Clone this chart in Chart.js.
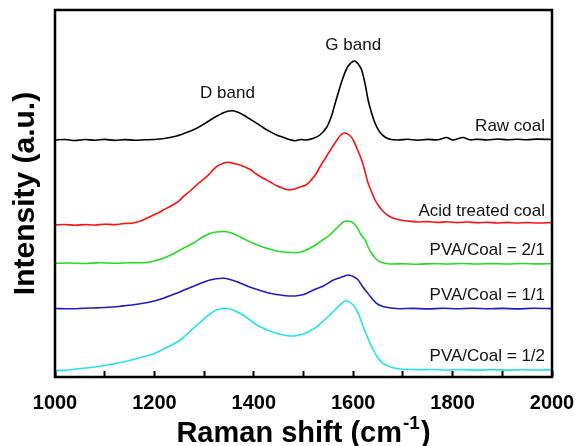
<!DOCTYPE html>
<html>
<head>
<meta charset="utf-8">
<script src="https://cdn.jsdelivr.net/npm/chart.js@4.4.1/dist/chart.umd.min.js"></script>
<style>
  html, body { margin: 0; padding: 0; background: #fff; }
  #wrap { width: 576px; height: 446px; }
</style>
</head>
<body>
<div id="wrap"><canvas id="raman"></canvas></div>
<script>
// Raman spectra, curves offset vertically (arbitrary units)
const rawShift = [1000,1020,1040,1060,1080,1100,1120,1140,1160,1180,1200,1220,1245,1265,1285,1300,1318,1339,1355,1367,1379,1392,1406,1420,1433,1446,1459,1471,1483,1495,1506,1520,1533,1547,1557,1565,1580,1590,1602,1610,1617,1624,1630,1637,1644,1652,1661,1674,1690,1710,1730,1750,1770,1788,1800,1821,1835,1850,1870,1890,1910,1930,1950,1970,2000];
const rawCoal  = [237,237.5,236.5,237.5,236.8,237.6,236.6,237.4,236.8,237.2,237.5,238.5,241,244.5,248.7,253,258.7,264.3,266.3,265,262,258,253.7,249,245.3,242,239.7,237.5,236.3,237.5,237,238.7,242,250,262,276,300,311,316,313,307,293,277,264,253.7,246,241,237.7,237,237.8,236.8,237.6,237.2,239.5,237,239.5,237.2,237.8,237,238,237.2,237.8,237.3,237.9,237.5];

const acidShift = [1000,1020,1040,1060,1080,1100,1120,1140,1158,1175,1191,1205,1218,1233,1248,1258,1272,1285,1305,1325,1340,1349,1360,1372,1392,1405,1419,1433,1446,1466,1480,1493,1505,1513,1525,1533,1543,1553,1566,1575,1583,1592,1600,1608,1617,1624,1630,1637,1644,1652,1661,1670,1681,1694,1708,1730,1750,1770,1790,1810,1830,1850,1870,1890,1910,1930,1950,1970,2000];
const acidCoal  = [152,152.5,151.8,152.4,152,152.8,152.4,153.5,154,156.5,160.3,163.5,167,171,175.3,180.3,186,192,200.3,210.3,214,214.7,213.5,212,207.7,203,198.7,195,191.3,187.5,187.8,190,192,195.5,203,210,218,226,236,242,244,242,237,228,217,205,193.7,185,177,170.5,165.3,161.5,158.7,157,156,155,155.4,154.6,155.2,154.4,155,154.2,154.8,154,154.6,154,154.5,154,154.5];

const pva21Shift = [1000,1030,1060,1090,1120,1150,1184,1200,1218,1235,1252,1265,1278,1298,1312,1325,1345,1358,1372,1385,1399,1413,1426,1442,1459,1475,1490,1503,1513,1527,1540,1553,1567,1580,1587,1597,1607,1615,1624,1630,1637,1645,1654,1664,1674,1700,1730,1760,1790,1820,1850,1880,1910,1940,1970,2000];
const pva21     = [113.7,114,113.5,114.2,113.8,114.3,114.5,116,118.7,122.5,127,130.5,133.7,140.3,143.5,145,145.3,143.5,140.3,137,133.7,131,128.7,126.5,125,124.5,124.5,126.5,128.7,133,137.5,142,149,155,156,155,150.3,143,137,130,123.7,118.5,115.3,113.8,113,113.2,112.8,113.4,113,113.5,113,113.4,113,113.5,113.1,113.4];

const pva11Shift = [1000,1030,1060,1090,1124,1150,1178,1200,1218,1235,1252,1270,1285,1300,1312,1325,1339,1352,1366,1382,1399,1416,1433,1453,1473,1490,1506,1520,1540,1560,1575,1590,1600,1610,1618,1627,1637,1647,1657,1667,1680,1694,1720,1750,1780,1810,1840,1870,1900,1930,1960,2000];
const pva11      = [68.5,68.2,68.8,69.2,70.3,71.8,73.7,76,78.7,82,85.3,89,92,95,97,98.3,98.7,97.5,95.3,92,88.7,86,83.7,82,81,81.5,83.5,87,91,97,99.5,102,100.5,97,91,85.3,79,73.7,71,69.7,68.8,68.3,68.6,68.1,68.7,68.2,68.8,68.2,68.6,68.1,68.7,68.4];

const pva12Shift = [1000,1030,1057,1090,1124,1150,1178,1200,1218,1235,1252,1265,1278,1292,1305,1315,1325,1342,1355,1366,1380,1392,1405,1419,1432,1446,1460,1473,1487,1500,1513,1527,1540,1553,1567,1580,1587,1597,1607,1614,1620,1627,1634,1642,1650,1660,1674,1688,1701,1730,1760,1790,1820,1850,1880,1910,1940,1970,2000];
const pva12      = [6.3,7.3,8.7,10.8,13.7,16.5,20.3,23.5,27.7,32,37,42.5,48.7,54.5,60.3,64,67,68.7,67.5,65.3,61.5,57,52.5,48.7,46,43.7,42,41,41.5,43,46,50.3,56,62,69,75,76,73.5,67,59,50.3,42,33.7,25.5,18.7,13.5,10.3,8.5,7.7,7.2,7.5,7,7.4,6.9,7.3,6.9,7.3,7,7.2];

// text labels (x in cm-1, y in intensity units)
const labelText  = ['G band', 'D band', 'Raw coal', 'Acid treated coal', 'PVA/Coal = 2/1', 'PVA/Coal = 1/1', 'PVA/Coal = 1/2'];
const labelShift = [1600, 1347, 1986, 1986, 1986, 1986, 1986];
const labelLevel = [332, 284, 251, 166, 127, 82, 21];
const labelAlign = ['center', 'center', 'right', 'right', 'right', 'right', 'right'];

const FONT = '"Liberation Sans", Arial, sans-serif';

function pairs(xs, ys) {
    return xs.map((x, i) => ({ x: x, y: ys[i] }));
}

function makeSet(name, xs, ys, color) {
    return {
        label: name,
        data: pairs(xs, ys),
        borderColor: color,
        borderWidth: 1.6,
        pointRadius: 0,
        tension: 0.3,
        fill: false
    };
}

const frameAndLabels = {
    id: 'frameAndLabels',
    afterDraw(chart) {
        const ctx = chart.ctx;
        const a = chart.chartArea;
        const xs = chart.scales.x, ys = chart.scales.y;
        ctx.save();
        ctx.strokeStyle = '#000';
        ctx.lineWidth = 2.5;
        ctx.strokeRect(a.left, a.top, a.right - a.left, a.bottom - a.top);

        ctx.fillStyle = '#111';
        ctx.font = '17px ' + FONT;
        ctx.textBaseline = 'middle';
        labelText.forEach((t, i) => {
            ctx.textAlign = labelAlign[i];
            ctx.fillText(t, xs.getPixelForValue(labelShift[i]), ys.getPixelForValue(labelLevel[i]));
        });

        // x title with a real superscript
        const main = 'Raman shift (cm', sup = '-1', close = ')';
        const big = 'bold 29px ' + FONT, small = 'bold 19px ' + FONT;
        ctx.font = big;
        const w1 = ctx.measureText(main).width, w3 = ctx.measureText(close).width;
        ctx.font = small;
        const w2 = ctx.measureText(sup).width;
        let x = (a.left + a.right) / 2 - (w1 + w2 + w3 + 2) / 2;
        const base = 442;
        ctx.fillStyle = '#000';
        ctx.textAlign = 'left';
        ctx.textBaseline = 'alphabetic';
        ctx.font = big;
        ctx.fillText(main, x, base);
        x += w1 + 1;
        ctx.font = small;
        ctx.fillText(sup, x, base - 13);
        x += w2 + 1;
        ctx.font = big;
        ctx.fillText(close, x, base);
        ctx.restore();
    }
};

function initializeChart() {
    const ctx = document.getElementById('raman').getContext('2d');

    new Chart(ctx, {
        type: 'line',
        data: {
            datasets: [
                makeSet('Raw coal', rawShift, rawCoal, '#000000'),
                makeSet('Acid treated coal', acidShift, acidCoal, '#ff1010'),
                makeSet('PVA/Coal = 2/1', pva21Shift, pva21, '#22dd22'),
                makeSet('PVA/Coal = 1/1', pva11Shift, pva11, '#1c1cc8'),
                makeSet('PVA/Coal = 1/2', pva12Shift, pva12, '#20e4e8')
            ]
        },
        options: {
            responsive: true,
            maintainAspectRatio: false,
            animation: false,
            layout: { padding: { top: 10, right: 0, left: 0, bottom: 0 } },
            plugins: {
                legend: { display: false },
                tooltip: { enabled: false }
            },
            scales: {
                x: {
                    type: 'linear',
                    min: 1000,
                    max: 2000,
                    afterFit(scale) {
                        scale.height = 69;
                        scale.paddingLeft = 0;
                        scale.paddingRight = 24;
                    },
                    border: { display: false },
                    grid: {
                        drawOnChartArea: false,
                        tickLength: -6,
                        tickColor: '#000',
                        tickWidth: 2
                    },
                    ticks: {
                        stepSize: 100,
                        autoSkip: false,
                        maxRotation: 0,
                        padding: 20,
                        color: '#000',
                        font: { family: FONT, size: 20, weight: 'bold' },
                        callback: v => (v % 200 === 0 ? v : '')
                    },
                    title: { display: false }
                },
                y: {
                    min: 0,
                    max: 367,
                    afterFit(scale) { scale.width = 55; },
                    border: { display: false },
                    grid: { display: false },
                    ticks: { display: false },
                    title: {
                        display: true,
                        text: 'Intensity (a.u.)',
                        color: '#000',
                        padding: { top: 8, bottom: 0 },
                        font: { family: FONT, size: 30, weight: 'bold' }
                    }
                }
            }
        },
        plugins: [frameAndLabels]
    });
}

document.addEventListener('DOMContentLoaded', initializeChart);
</script>
</body>
</html>
